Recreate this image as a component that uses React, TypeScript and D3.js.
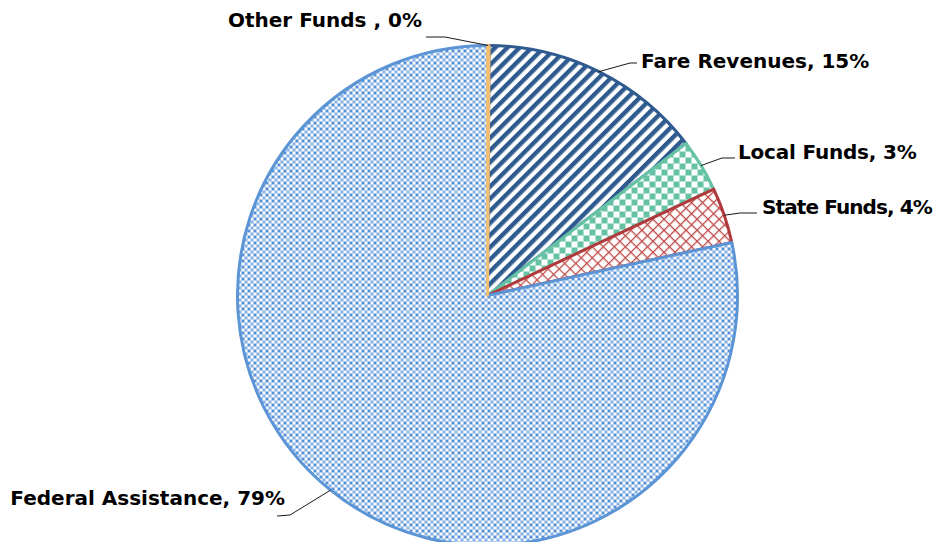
import React from "react";
import * as d3 from "d3";

const categories = ["Other Funds ", "Fare Revenues", "Local Funds", "State Funds", "Federal Assistance"];
const values = [0.1, 14.5, 3.4, 3.6, 78.4];
const pctLabels = ["0%", "15%", "3%", "4%", "79%"];

const W = 943, H = 542;
const cx = 487.5, cy = 295.5, R = 250;

const fills = ["#F5C27A", "url(#pFare)", "url(#pLocal)", "url(#pState)", "url(#pFed)"];
const strokes = ["#F2BE73", "#2E5A8F", "#66C2A5", "#B0393B", "#5B95D6"];
// draw order (later on top)
const drawOrder = [1, 2, 3, 4, 0];

// label layout: elbow point, line end, text anchor position
const labelLayout = [
  { elbow: [445, 37], end: [426, 37], tx: 422, ty: 27, anchor: "end", ls: 0 },
  { elbow: [630, 63], end: [637, 63], tx: 641, ty: 68, anchor: "start", ls: 0 },
  { elbow: [722, 158], end: [735, 158], tx: 738, ty: 159, anchor: "start", ls: -0.2 },
  { elbow: [740, 213], end: [757, 213], tx: 762, ty: 214, anchor: "start", ls: -0.9 },
  { elbow: [290, 515], end: [277, 516], tx: 285, ty: 505, anchor: "end", ls: 0 },
];

export default function App() {
  const pie = d3.pie<number>().sort(null).value((d) => d);
  const arcs = pie(values);
  const arcGen = d3.arc<d3.PieArcDatum<number>>().innerRadius(0).outerRadius(R);

  return (
    <svg width={W} height={H} style={{ position: "absolute", left: 0, top: 0, background: "#fff" }}>
      <defs>
        <pattern id="pFare" patternUnits="userSpaceOnUse" width="8.6" height="8.6" patternTransform="rotate(45)">
          <rect width="8.6" height="8.6" fill="#fff" />
          <rect width="4.4" height="8.6" fill="#2E5A8F" />
        </pattern>
        <pattern id="pLocal" patternUnits="userSpaceOnUse" width="12" height="12">
          <rect width="12" height="12" fill="#fff" />
          <rect width="6" height="6" fill="#66C2A5" />
          <rect x="6" y="6" width="6" height="6" fill="#66C2A5" />
        </pattern>
        <pattern id="pState" patternUnits="userSpaceOnUse" width="7.8" height="7.8" patternTransform="rotate(45)">
          <rect width="7.8" height="7.8" fill="#fff" />
          <rect width="1.3" height="7.8" fill="#C0504D" />
          <rect width="7.8" height="1.3" fill="#C0504D" />
        </pattern>
        <pattern id="pFed" patternUnits="userSpaceOnUse" width="6" height="6">
          <rect width="6" height="6" fill="#fff" />
          <rect width="3" height="3" fill="#5790D4" />
          <rect x="3" y="3" width="3" height="3" fill="#86B0E4" />
        </pattern>
      </defs>
      <g transform={`translate(${cx},${cy})`}>
        {drawOrder.map((i) => (
          <path
            key={i}
            d={arcGen(arcs[i]) || ""}
            fill={fills[i]}
            stroke={strokes[i]}
            strokeWidth={3}
            strokeLinejoin="round"
          />
        ))}
      </g>
      {arcs.map((a, i) => {
        const mid = (a.startAngle + a.endAngle) / 2;
        const sx = cx + R * Math.sin(mid);
        const sy = cy - R * Math.cos(mid);
        const L = labelLayout[i];
        return (
          <g key={i}>
            <polyline
              points={`${sx},${sy} ${L.elbow[0]},${L.elbow[1]} ${L.end[0]},${L.end[1]}`}
              fill="none"
              stroke="#1a1a1a"
              strokeWidth={1}
            />
            <text
              x={L.tx}
              y={L.ty}
              textAnchor={L.anchor as any}
              fontFamily="DejaVu Sans, sans-serif"
              fontWeight="bold"
              fontSize={20}
              letterSpacing={L.ls}
              fill="#000"
            >
              {`${categories[i]}, ${pctLabels[i]}`}
            </text>
          </g>
        );
      })}
    </svg>
  );
}
